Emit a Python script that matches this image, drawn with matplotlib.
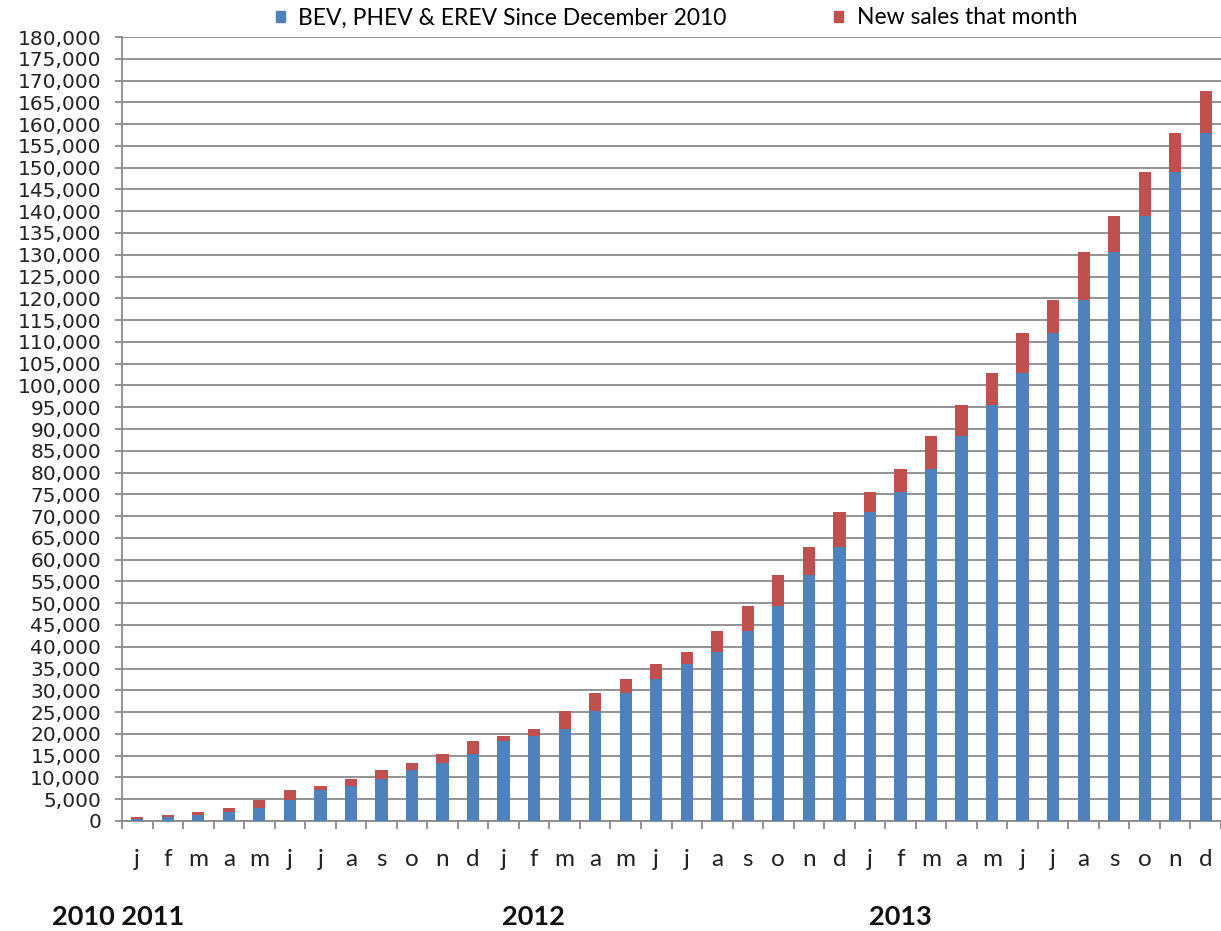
import numpy as np
import matplotlib
matplotlib.use("Agg")
import matplotlib.pyplot as plt
from matplotlib.patches import Patch
from matplotlib.ticker import FuncFormatter

# ---- data ----
months = ["j", "f", "m", "a", "m", "j", "j", "a", "s", "o", "n", "d",
          "j", "f", "m", "a", "m", "j", "j", "a", "s", "o", "n", "d",
          "j", "f", "m", "a", "m", "j", "j", "a", "s", "o", "n", "d"]

cumulative_before = [350, 850, 1300, 2140, 2950, 4820, 7100, 7950, 9550, 11650, 13240, 15400,
                     18300, 19450, 21150, 25200, 29400, 32600, 35970, 38750, 43700, 49400, 56480, 63000,
                     70900, 75450, 80800, 88300, 95600, 102950, 112100, 119600, 130700, 138900, 149100, 157900]

new_sales = [500, 450, 840, 810, 1870, 2280, 850, 1600, 2100, 1590, 2160, 2900,
             1150, 1700, 4050, 4200, 3200, 3370, 2780, 4950, 5700, 7080, 6520, 7900,
             4550, 5350, 7500, 7300, 7350, 9150, 7500, 11100, 8200, 10200, 8800, 9800]

series_labels = ["BEV, PHEV & EREV Since December 2010", "New sales that month"]
year_labels = ["2010 2011", "2012", "2013"]

BLUE = "#4F81BD"
RED = "#C0504D"
GRID = "#8a8a8a"
W, H = 1221, 931

fig = plt.figure(figsize=(W / 100, H / 100), dpi=100)
ax = fig.add_axes([122 / W, 110 / H, 1099 / W, 784 / H])

x = np.arange(len(months))
ax.bar(x, cumulative_before, width=0.4, color=BLUE, zorder=3)
ax.bar(x, new_sales, bottom=cumulative_before, width=0.4, color=RED, zorder=3)

ax.set_xlim(-0.5, 35.2)
ax.set_ylim(0, 180000)
ax.set_yticks(np.arange(0, 180001, 5000))
ax.yaxis.set_major_formatter(FuncFormatter(lambda v, p: f"{int(v):,}"))
ax.grid(axis="y", color=GRID, lw=1.3, zorder=0)
ax.set_axisbelow(True)

for s in ["top", "right"]:
    ax.spines[s].set_visible(False)
for s in ["left", "bottom"]:
    ax.spines[s].set_color(GRID)
    ax.spines[s].set_linewidth(1.3)

ax.set_xticks(x)
ax.set_xticklabels(months, fontsize=17.5, family="Lato", color="#222222")
ax.tick_params(axis="x", which="major", length=0, pad=20)
ax.set_xticks(np.arange(-0.5, 35.6, 1), minor=True)
ax.tick_params(axis="x", which="minor", length=6, width=1.3, color=GRID, direction="out")
ax.tick_params(axis="y", length=5, width=1.3, color=GRID, pad=10, labelsize=14.5,
               labelcolor="#222222")

handles = [Patch(color=BLUE, label=series_labels[0]), Patch(color=RED, label=series_labels[1])]
fig.legend(handles=handles, loc="center left", bbox_to_anchor=(276 / W, (H - 18) / H),
           ncol=2, frameon=False, prop={"family": "Lato", "size": 16.5},
           handlelength=0.4, handleheight=0.4, handletextpad=0.57, columnspacing=4.7,
           borderpad=0, borderaxespad=0)

for label, left in zip(year_labels, [52, 502, 869]):
    fig.text(left / W, (H - 917) / H, label, fontweight="bold", fontsize=19.5, family="Lato",
             va="center", ha="left", color="#111111")

fig.savefig("out.png", dpi=100)
